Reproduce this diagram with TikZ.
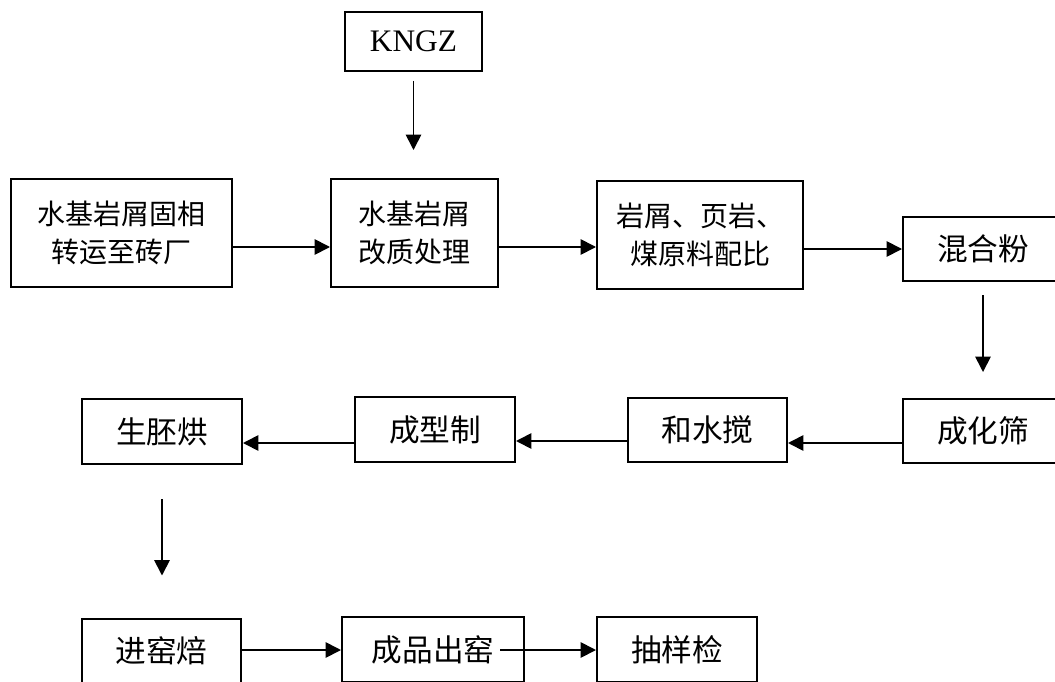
\documentclass[tikz,border=0pt]{standalone}
\usepackage{fontspec}
\setmainfont{Liberation Serif}
\newfontfamily\cjk{Noto Sans CJK SC}
\usetikzlibrary{arrows.meta,calc}
\begin{document}
\begin{tikzpicture}[x=0.75pt,y=-0.75pt,
  box/.style={draw,line width=1.5pt,inner sep=0pt,align=center,
    font=\cjk\fontsize{23}{28}\selectfont},
  two/.style={font=\cjk\fontsize{21}{28.5}\selectfont},
  latin/.style={font=\fontsize{23.5}{28}\selectfont},
  wh/.style 2 args={minimum width=#1*0.75pt,minimum height=#2*0.75pt},
  arr/.style={-{Triangle[length=11.5pt,width=11.5pt]},line width=1.3pt}]
\useasboundingbox (0,0) rectangle (1055,681);
\clip (0,0) rectangle (1055,681);
% nodes
\node[box,latin,wh={137}{59}] (k) at (413.5,41.5) {KNGZ};
\node[box,two,wh={221}{108}] (b1) at (121.5,233) {水基岩屑固相\\转运至砖厂};
\node[box,two,wh={167}{108}] (b2) at (414.5,233) {水基岩屑\\改质处理};
\node[box,two,wh={206}{108}] (b3) at (700,235) {岩屑、页岩、\\煤原料配比};
\node[box,wh={160}{64}] (b4) at (983,249) {混合粉};
\node[box,wh={160}{64}] (b5) at (983,431) {成化筛};
\node[box,wh={159}{64}] (b6) at (707.5,430) {和水搅};
\node[box,wh={160}{65}] (b7) at (435,429.5) {成型制};
\node[box,wh={160}{65}] (b8) at (162,431.5) {生胚烘};
\node[box,wh={159}{64}] (b9) at (161.5,650.5) {进窑焙};
\node[box,wh={182}{65}] (b10) at (433,649.5) {成品出窑};
\node[box,wh={160}{65}] (b11) at (677,649.5) {抽样检};
% connector anchors
\coordinate (c12) at ($(b1.east)+(0,14)$);
\coordinate (c23) at ($(b2.east)+(0,14)$);
\coordinate (c34) at ($(b3.east)+(0,14)$);
\coordinate (c56) at ($(b5.west)+(0,12)$);
\coordinate (c67) at ($(b6.west)+(0,11)$);
\coordinate (c78) at ($(b7.west)+(0,13.5)$);
\coordinate (c910) at ($(b9.east)+(0,-0.5)$);
\coordinate (c1011) at (500,650);
% connectors
\draw[arr,shorten <=6.75pt,shorten >=21pt] (k.south) -- (k.south |- b2.north);
\draw[arr] (c12) -- (c12 -| b2.west);
\draw[arr] (c23) -- (c23 -| b3.west);
\draw[arr] (c34) -- (c34 -| b4.west);
\draw[arr,shorten <=9.75pt,shorten >=19.5pt] (b4.south) -- (b4.south |- b5.north);
\draw[arr] (c56) -- (c56 -| b6.east);
\draw[arr] (c67) -- (c67 -| b7.east);
\draw[arr] (c78) -- (c78 -| b8.east);
\draw[arr,shorten <=25.5pt,shorten >=31.5pt] (b8.south) -- (b8.south |- b9.north);
\draw[arr] (c910) -- (c910 -| b10.west);
\draw[arr] (c1011) -- (c1011 -| b11.west);
\end{tikzpicture}
\end{document}
